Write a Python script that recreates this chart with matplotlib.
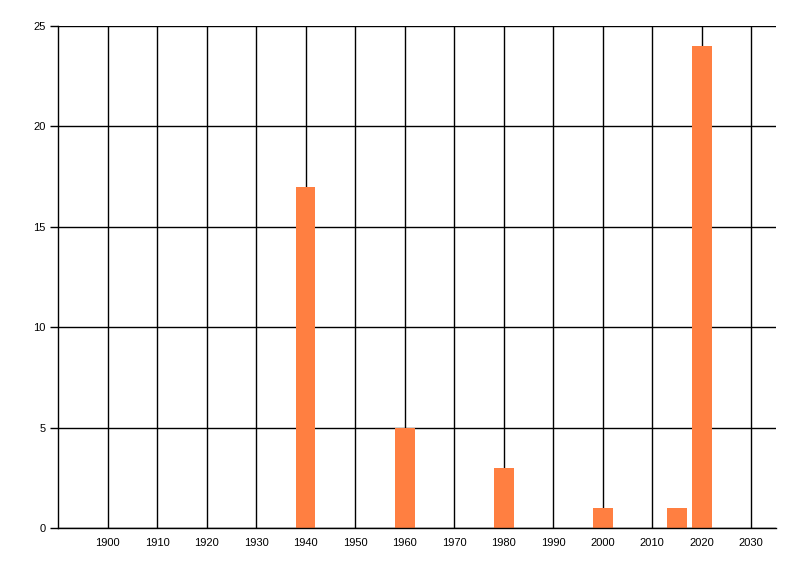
import matplotlib.pyplot as plt

# Data
years = [1940, 1960, 1980, 2000, 2015, 2020]
counts = [17, 5, 3, 1, 1, 24]
xtick_years = list(range(1900, 2031, 10))
ytick_vals = [0, 5, 10, 15, 20, 25]

plt.rcParams['font.family'] = ['Liberation Sans', 'DejaVu Sans']
plt.rcParams['font.size'] = 8

fig = plt.figure(figsize=(8, 5.76), dpi=100)
ax = fig.add_axes([0.0725, 0.0833, 0.8975, 0.8716])

ax.bar(years, counts, width=4, color='#ff7f41')

ax.set_xlim(1890, 2035)
ax.set_ylim(0, 25)
ax.set_xticks(xtick_years)
ax.set_yticks(ytick_vals)

# black grid under the bars
ax.grid(True, color='black', linewidth=1)
ax.set_axisbelow(True)

ax.spines[['top', 'right']].set_visible(False)
ax.spines[['left', 'bottom']].set_linewidth(1)
ax.tick_params(axis='x', length=0, pad=7)
ax.tick_params(axis='y', length=6, width=1, pad=3)

fig.savefig('out.png', dpi=100)
